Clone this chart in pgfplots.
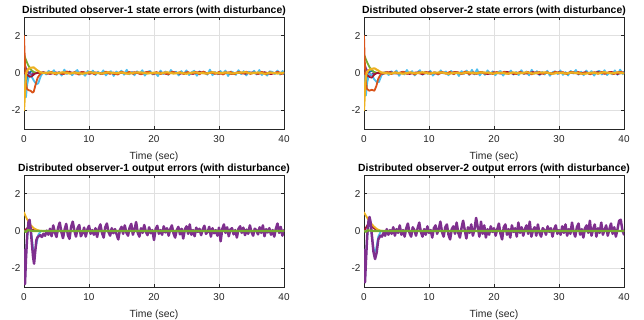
\documentclass[border=0pt]{standalone}
\usepackage{pgfplots}
\pgfplotsset{compat=1.18}
\usepackage{fontspec}
\setmainfont{Liberation Sans}
\definecolor{mblue}{rgb}{0,0.447,0.741}
\definecolor{morange}{rgb}{0.85,0.325,0.098}
\definecolor{myellow}{rgb}{0.929,0.694,0.125}
\definecolor{mpurple}{rgb}{0.494,0.184,0.556}
\definecolor{mgreen}{rgb}{0.466,0.674,0.188}
\definecolor{mcyan}{rgb}{0.301,0.745,0.933}
\definecolor{mred}{rgb}{0.635,0.078,0.184}
\definecolor{axgray}{rgb}{0.15,0.15,0.15}
\pgfplotsset{myax/.style={
  scale only axis, width=260bp, height=112bp, anchor=south west,
  xmin=0, xmax=40, ymin=-3, ymax=3,
  xtick={0,10,20,30,40}, ytick={-2,0,2},
  grid=major, grid style={line width=0.5bp, draw=black!12},
  axis line style={line width=0.6bp, draw=axgray},
  tick style={line width=0.5bp, draw=axgray},
  tick align=inside, major tick length=2.6bp,
  /pgf/number format/assume math mode=true,
  ticklabel style={font=\fontsize{10}{12}\selectfont, text=axgray},
  xticklabel style={yshift=-3bp},
  xlabel={Time (sec)},
  xlabel style={font=\fontsize{10.4bp}{12bp}\selectfont, text=axgray, yshift=-3bp},
  title style={font=\bfseries\fontsize{10.4bp}{12bp}\selectfont, text=black, yshift=-8bp},
  every axis plot/.append style={line width=1.8bp, line join=round, line cap=round},
  no markers,
}}
\begin{document}
\begin{tikzpicture}
\path[use as bounding box] (0,0) rectangle (644bp,320bp);
% ---------------- top left
\begin{axis}[myax, at={(24bp,191bp)}, title={Distributed observer-1 state errors (with disturbance)}]
\addplot[mblue] coordinates {(0,-0.4) (0.2,-1.0) (0.5,-0.3) (0.8,0.02) (1.2,0.1) (1.6,0.02) (2,0) (40,0)};
\addplot[mpurple] coordinates {(0,0.6) (0.3,0.25) (0.7,0) (1.1,-0.1) (1.5,0) (40,0)};
\addplot[mgreen] coordinates {(0,1.0) (0.3,0.7) (0.6,0.45) (1.0,0.2) (1.5,0.05) (2,0) (40,0)};
\addplot[mcyan] coordinates {(0,0) (0.15,-1.0) (0.3,-1.3) (0.5,-0.6) (0.8,-0.1) (1.1,-0.15) (1.5,-0.4) (1.9,-0.6) (2.2,-0.55) (2.6,-0.15) (3.0,0.05)
(3.4,-0.08) (3.8,0.12) (4.2,-0.03) (4.6,0.15) (5.0,-0.10) (5.4,0.06) (5.8,-0.14) (6.2,0.18) (6.6,-0.05) (7.0,0.09)
(7.4,-0.12) (7.8,0.04) (8.2,0.16) (8.6,-0.09) (9.0,0.02) (9.4,-0.15) (9.8,0.11) (10.2,-0.04) (10.6,0.13) (11.0,-0.11)
(11.4,0.07) (11.8,-0.06) (12.2,0.14) (12.6,-0.13) (13.0,0.03) (13.4,0.10) (13.8,-0.16) (14.2,0.08) (14.6,-0.02) (15.0,0.12)
(15.4,-0.09) (15.8,0.17) (16.2,-0.07) (16.6,0.05) (17.0,-0.12) (17.4,0.09) (17.8,-0.04) (18.2,0.15) (18.6,-0.14) (19.0,0.06)
(19.4,0.11) (19.8,-0.08) (20.2,0.03) (20.6,-0.17) (21.0,0.13) (21.4,-0.05) (21.8,0.08) (22.2,-0.10) (22.6,0.16) (23.0,-0.03)
(23.4,0.07) (23.8,-0.13) (24.2,0.10) (24.6,-0.06) (25.0,0.14) (25.4,-0.11) (25.8,0.04) (26.2,0.12) (26.6,-0.15) (27.0,0.09)
(27.4,-0.02) (27.8,0.06) (28.2,-0.09) (28.6,0.18) (29.0,-0.12) (29.4,0.05) (29.8,-0.07) (30.2,0.11) (30.6,-0.04) (31.0,0.13)
(31.4,-0.16) (31.8,0.08) (32.2,0.03) (32.6,-0.10) (33.0,0.15) (33.4,-0.06) (33.8,0.10) (34.2,-0.13) (34.6,0.07) (35.0,-0.03)
(35.4,0.12) (35.8,-0.08) (36.2,0.16) (36.6,-0.11) (37.0,0.04) (37.4,-0.14) (37.8,0.09) (38.2,0.06) (38.6,-0.05) (39.0,0.13)
(39.4,-0.09) (39.8,0.11) (40,-0.07)};
\addplot[mred] coordinates {(0,0) (0.5,-0.1) (0.9,-0.2) (1.2,-0.18) (1.6,-0.05) (2,0) (3,0.04) (4,-0.05) (5,0.03) (6,-0.06) (7,0.05) (8,-0.03) (9,0.06) (10,-0.04) (11,0.03) (12,-0.05) (13,0.04) (14,-0.06) (15,0.05) (16,-0.03) (17,0.04) (18,-0.05) (19,0.06) (20,-0.04) (21,0.03) (22,-0.06) (23,0.05) (24,-0.04) (25,0.03) (26,-0.05) (27,0.06) (28,-0.03) (29,0.04) (30,-0.05) (31,0.03) (32,-0.06) (33,0.05) (34,-0.04) (35,0.03) (36,-0.05) (37,0.04) (38,-0.06) (39,0.05) (40,-0.03)};
\addplot[morange] coordinates {(0,2) (0.1,1.0) (0.2,0.1) (0.3,-0.55) (0.45,-0.85) (0.7,-0.92) (1.0,-0.95) (1.3,-1.05) (1.5,-1.0) (1.8,-0.6) (2.1,-0.25) (2.5,-0.05) (3.0,0.02)
(3.6,-0.04) (4.2,0.06) (4.8,-0.07) (5.4,0.03) (6.0,-0.05) (6.6,0.08) (7.2,-0.03) (7.8,0.05) (8.4,-0.08) (9.0,0.04) (9.6,-0.02) (10.2,0.06) (10.8,-0.06) (11.4,0.02) (12.0,-0.04) (12.6,0.07) (13.2,-0.05) (13.8,0.03) (14.4,-0.09) (15.0,0.05) (15.6,-0.03) (16.2,0.06) (16.8,-0.05) (17.4,0.04) (18.0,-0.07) (18.6,0.02) (19.2,0.06) (19.8,-0.04) (20.4,0.05) (21.0,-0.06) (21.6,0.03) (22.2,-0.08) (22.8,0.07) (23.4,-0.02) (24.0,0.04) (24.6,-0.06) (25.2,0.05) (25.8,-0.03) (26.4,0.06) (27.0,-0.07) (27.6,0.08) (28.2,-0.04) (28.8,0.03) (29.4,-0.05) (30.0,0.06) (30.6,-0.08) (31.2,0.02) (31.8,0.05) (32.4,-0.06) (33.0,0.04) (33.6,-0.03) (34.2,0.07) (34.8,-0.05) (35.4,0.03) (36.0,-0.04) (36.6,0.06) (37.2,-0.07) (37.8,0.04) (38.4,-0.02) (39.0,0.05) (39.6,-0.06) (40,0.02)};
\addplot[myellow, line width=2.1bp] coordinates {(0,-2) (0.1,-1.4) (0.2,-0.6) (0.35,0) (0.6,0.2) (1.0,0.28) (1.5,0.3) (2.0,0.15) (2.5,0.04) (3.0,0) (4,0.03) (5,-0.02) (6,0.04) (7,-0.03) (8,0.02) (9,-0.04) (10,0.03) (11,0.01) (12,-0.03) (13,0.04) (14,-0.02) (15,0.03) (16,-0.04) (17,0.02) (18,0.03) (19,-0.03) (20,0.02) (21,-0.02) (22,0.04) (23,-0.03) (24,0.02) (25,-0.04) (26,0.03) (27,0.01) (28,-0.03) (29,0.04) (30,-0.02) (31,0.03) (32,-0.03) (33,0.02) (34,0.04) (35,-0.02) (36,0.03) (37,-0.04) (38,0.02) (39,-0.03) (40,0.02)};
\end{axis}
% ---------------- top right
\begin{axis}[myax, at={(364bp,191bp)}, title={Distributed observer-2 state errors (with disturbance)}]
\addplot[mblue] coordinates {(0,-0.5) (0.2,-1.1) (0.5,-0.3) (0.8,0.05) (1.2,0.12) (1.6,0.03) (2,0) (40,0)};
\addplot[mpurple] coordinates {(0,0.6) (0.3,0.25) (0.7,0) (1.1,-0.12) (1.5,0) (40,0)};
\addplot[mgreen] coordinates {(0,1.0) (0.3,0.72) (0.6,0.48) (1.0,0.22) (1.5,0.06) (2,0) (40,0)};
\addplot[mcyan] coordinates {(0,0) (0.15,-0.9) (0.3,-1.2) (0.5,-0.5) (0.8,-0.05) (1.2,-0.1) (1.6,-0.35) (2.0,-0.5) (2.3,-0.48) (2.7,-0.12) (3.0,0.0)
(3.4,0.06) (3.8,-0.11) (4.2,0.09) (4.6,-0.04) (5.0,0.13) (5.4,-0.15) (5.8,0.05) (6.2,-0.08) (6.6,0.16) (7.0,-0.06)
(7.4,0.10) (7.8,-0.13) (8.2,0.03) (8.6,0.15) (9.0,-0.10) (9.4,0.07) (9.8,-0.05) (10.2,0.12) (10.6,-0.14) (11.0,0.04)
(11.4,-0.09) (11.8,0.14) (12.2,-0.03) (12.6,0.08) (13.0,-0.12) (13.4,0.11) (13.8,-0.07) (14.2,0.05) (14.6,-0.16) (15.0,0.10)
(15.4,-0.04) (15.8,0.13) (16.2,-0.11) (16.6,0.17) (17.0,-0.08) (17.4,0.20) (17.8,-0.13) (18.2,0.06) (18.6,-0.10) (19.0,0.14)
(19.4,-0.05) (19.8,0.09) (20.2,-0.12) (20.6,0.04) (21.0,0.11) (21.4,-0.14) (21.8,0.07) (22.2,-0.03) (22.6,0.13) (23.0,-0.09)
(23.4,0.05) (23.8,-0.11) (24.2,0.15) (24.6,-0.06) (25.0,0.08) (25.4,-0.13) (25.8,0.17) (26.2,-0.04) (26.6,0.10) (27.0,-0.12)
(27.4,0.06) (27.8,-0.08) (28.2,0.12) (28.6,-0.15) (29.0,0.04) (29.4,0.09) (29.8,-0.06) (30.2,0.14) (30.6,-0.10) (31.0,0.05)
(31.4,-0.13) (31.8,0.11) (32.2,-0.03) (32.6,0.16) (33.0,-0.09) (33.4,0.07) (33.8,-0.12) (34.2,0.13) (34.6,-0.05) (35.0,0.10)
(35.4,-0.14) (35.8,0.06) (36.2,0.12) (36.6,-0.08) (37.0,0.15) (37.4,-0.11) (37.8,0.04) (38.2,-0.07) (38.6,0.14) (39.0,-0.10)
(39.4,0.18) (39.8,-0.06) (40,0.08)};
\addplot[mred] coordinates {(0,0) (0.5,-0.12) (0.9,-0.22) (1.2,-0.25) (1.6,-0.08) (2,0) (3,-0.04) (4,0.05) (5,-0.03) (6,0.06) (7,-0.05) (8,0.03) (9,-0.06) (10,0.04) (11,-0.03) (12,0.05) (13,-0.04) (14,0.06) (15,-0.05) (16,0.03) (17,-0.04) (18,0.05) (19,-0.06) (20,0.04) (21,-0.03) (22,0.06) (23,-0.05) (24,0.04) (25,-0.03) (26,0.05) (27,-0.06) (28,0.03) (29,-0.04) (30,0.05) (31,-0.03) (32,0.06) (33,-0.05) (34,0.04) (35,-0.03) (36,0.05) (37,-0.04) (38,0.06) (39,-0.05) (40,0.03)};
\addplot[morange] coordinates {(0,2) (0.1,0.8) (0.25,-0.4) (0.45,-0.85) (0.8,-0.95) (1.2,-0.9) (1.6,-0.95) (1.9,-0.7) (2.2,-0.3) (2.6,-0.05) (3.0,0.02)
(3.6,0.05) (4.2,-0.06) (4.8,0.04) (5.4,-0.03) (6.0,0.07) (6.6,-0.05) (7.2,0.03) (7.8,-0.08) (8.4,0.05) (9.0,-0.02) (9.6,0.06) (10.2,-0.05) (10.8,0.04) (11.4,-0.07) (12.0,0.03) (12.6,-0.04) (13.2,0.06) (13.8,-0.06) (14.4,0.05) (15.0,-0.03) (15.6,0.08) (16.2,-0.07) (16.8,0.04) (17.4,-0.05) (18.0,0.06) (18.6,-0.04) (19.2,0.03) (19.8,-0.06) (20.4,0.05) (21.0,-0.02) (21.6,0.07) (22.2,-0.05) (22.8,0.03) (23.4,-0.06) (24.0,0.05) (24.6,-0.04) (25.2,0.06) (25.8,-0.07) (26.4,0.03) (27.0,0.05) (27.6,-0.05) (28.2,0.04) (28.8,-0.06) (29.4,0.07) (30.0,-0.03) (30.6,0.05) (31.2,-0.06) (31.8,0.04) (32.4,-0.02) (33.0,0.06) (33.6,-0.05) (34.2,0.03) (34.8,-0.07) (35.4,0.05) (36.0,-0.04) (36.6,0.06) (37.2,-0.03) (37.8,0.05) (38.4,-0.06) (39.0,0.04) (39.6,0.06) (40,-0.02)};
\addplot[myellow, line width=2.1bp] coordinates {(0,-2) (0.1,-1.3) (0.2,-0.5) (0.4,0) (0.7,0.15) (1.1,0.22) (1.6,0.25) (2.1,0.15) (2.6,0.04) (3.1,0) (4,-0.03) (5,0.02) (6,-0.04) (7,0.03) (8,-0.02) (9,0.04) (10,-0.03) (11,0.02) (12,0.03) (13,-0.04) (14,0.02) (15,-0.03) (16,0.04) (17,-0.02) (18,0.03) (19,0.02) (20,-0.03) (21,0.02) (22,-0.04) (23,0.03) (24,-0.02) (25,0.04) (26,-0.03) (27,0.02) (28,0.03) (29,-0.04) (30,0.02) (31,-0.03) (32,0.03) (33,-0.02) (34,-0.04) (35,0.02) (36,-0.03) (37,0.04) (38,-0.02) (39,0.03) (40,-0.02)};
\end{axis}
% ---------------- bottom left
\begin{axis}[myax, at={(24bp,33bp)}, title={Distributed observer-1 output errors (with disturbance)}]
\addplot[mcyan] coordinates {(0,-1.0) (0.15,-2.7) (0.35,-1.0) (0.6,0.1) (0.9,0.4) (1.2,-0.3) (1.5,-1.3) (1.8,-0.9) (2.2,-0.2) (2.6,0) (40,0)};
\addplot[mred] coordinates {(0,0) (0.5,0.15) (1,0.1) (1.5,0.05) (2,0) (40,0)};
\addplot[myellow] coordinates {(0,1.0) (0.3,0.75) (0.6,0.55) (1.0,0.32) (1.5,0.15) (2.0,0.06) (2.5,0.01) (3,0) (40,0)};
\addplot[mpurple, line width=2.5bp] coordinates {(0,-1.0) (0.05,-1.5) (0.15,-2.85) (0.3,-1.5) (0.5,-0.2) (0.7,0.5) (0.85,0.6) (1.0,0.2) (1.2,-0.6) (1.4,-1.4) (1.55,-1.75) (1.7,-1.2) (1.9,-0.5) (2.05,-0.35)
(2.25,-0.28) (2.5,-0.22) (2.75,-0.32) (3.0,-0.15) (3.25,-0.25) (3.5,0.02) (3.75,-0.2) (4.0,0.12)
(4.25,-0.28) (4.5,0.3) (4.75,-0.08) (5.0,-0.32) (5.25,0.18) (5.5,0.45) (5.75,-0.05) (6.0,-0.38)
(6.25,0.08) (6.5,0.38) (6.75,-0.22) (7.0,-0.42) (7.25,0.22) (7.5,0.5) (7.75,0.02) (8.0,-0.3)
(8.25,0.15) (8.5,0.32) (8.75,-0.28) (9.0,-0.12) (9.25,0.18) (9.5,-0.3) (9.75,0.08) (10.0,0.28)
(10.25,-0.15) (10.5,0.05) (10.75,-0.2) (11.0,0.15) (11.25,-0.32) (11.5,0.12) (11.75,0.35) (12.0,-0.1)
(12.25,-0.35) (12.5,0.2) (12.75,0.4) (13.0,-0.05) (13.25,-0.25) (13.5,0.15) (13.75,-0.12) (14.0,0.1)
(14.25,-0.18) (14.5,-0.45) (14.75,0.05) (15.0,0.22) (15.25,-0.15) (15.5,0.3) (15.75,-0.08) (16.0,-0.25)
(16.25,0.18) (16.5,0.38) (16.75,-0.2) (17.0,0.08) (17.25,0.48) (17.5,-0.1) (17.75,-0.3) (18.0,0.15)
(18.25,-0.1) (18.5,0.32) (18.75,-0.05) (19.0,-0.22) (19.25,0.2) (19.5,-0.12) (19.75,0.05) (20.0,-0.48)
(20.25,0.1) (20.5,0.28) (20.75,-0.15) (21.0,0.05) (21.25,-0.2) (21.5,0.25) (21.75,-0.08) (22.0,0.15)
(22.25,-0.25) (22.5,0.1) (22.75,0.3) (23.0,-0.12) (23.25,-0.35) (23.5,0.05) (23.75,0.22) (24.0,-0.18)
(24.25,0.12) (24.5,-0.4) (24.75,0.08) (25.0,0.25) (25.25,-0.15) (25.5,0.35) (25.75,-0.2) (26.0,0.05)
(26.25,-0.28) (26.5,0.18) (26.75,-0.05) (27.0,0.12) (27.25,-0.22) (27.5,0.08) (27.75,0.28) (28.0,-0.15)
(28.25,-0.05) (28.5,0.22) (28.75,-0.3) (29.0,0.15) (29.25,-0.12) (29.5,0.05) (29.75,-0.25) (30.0,0.18)
(30.25,-0.55) (30.5,0.1) (30.75,0.35) (31.0,-0.1) (31.25,0.2) (31.5,-0.28) (31.75,0.08) (32.0,0.15)
(32.25,-0.18) (32.5,0.05) (32.75,-0.35) (33.0,0.12) (33.25,0.25) (33.5,-0.1) (33.75,0.18) (34.0,-0.22)
(34.25,0.08) (34.5,-0.15) (34.75,0.3) (35.0,-0.05) (35.25,-0.25) (35.5,0.12) (35.75,0.05) (36.0,-0.18)
(36.25,0.2) (36.5,-0.1) (36.75,0.3) (37.0,-0.28) (37.25,0.1) (37.5,-0.08) (37.75,0.15) (38.0,-0.2)
(38.25,0.05) (38.5,-0.3) (38.75,0.12) (39.0,0.4) (39.25,-0.1) (39.5,0.22) (39.75,-0.25) (40.0,0.05)};
\addplot[mgreen, line width=2.2bp] coordinates {(0,0) (0.3,-0.05) (0.6,0.05) (1.0,0.02) (1.5,0) (40,0)};
\end{axis}
% ---------------- bottom right
\begin{axis}[myax, at={(364bp,33bp)}, title={Distributed observer-2 output errors (with disturbance)}]
\addplot[mcyan] coordinates {(0,-1.0) (0.15,-2.65) (0.35,-1.1) (0.6,0.2) (0.9,0.5) (1.2,-0.2) (1.5,-1.0) (1.8,-1.1) (2.2,-0.3) (2.6,0) (40,0)};
\addplot[mred] coordinates {(0,0) (0.6,0.35) (1.0,0.3) (1.5,0.15) (2,0.05) (2.5,0) (40,0)};
\addplot[myellow] coordinates {(0,1.0) (0.5,0.7) (1.0,0.45) (1.5,0.25) (2.0,0.1) (2.5,0.02) (3,0) (40,0)};
\addplot[mpurple, line width=2.5bp] coordinates {(0,-1.0) (0.05,-1.6) (0.15,-2.75) (0.3,-1.6) (0.5,-0.2) (0.7,0.55) (0.85,0.75) (1.0,0.5) (1.2,-0.2) (1.45,-1.1) (1.7,-1.5) (1.95,-1.15) (2.2,-0.45) (2.5,-0.25)
(2.75,-0.3) (3.0,-0.1) (3.25,-0.25) (3.5,0.1) (3.75,-0.2) (4.0,0.05) (4.25,-0.15) (4.5,0.2)
(4.75,-0.25) (5.0,0.1) (5.25,-0.1) (5.5,0.3) (5.75,-0.2) (6.0,0.05) (6.25,-0.3) (6.5,0.15)
(6.75,0.4) (7.0,-0.1) (7.25,-0.3) (7.5,0.2) (7.75,0.05) (8.0,-0.25) (8.25,0.15) (8.5,0.45)
(8.75,-0.05) (9.0,-0.3) (9.25,0.1) (9.5,-0.2) (9.75,0.25) (10.0,-0.1) (10.25,0.05) (10.5,-0.35)
(10.75,0.15) (11.0,0.3) (11.25,-0.15) (11.5,0.1) (11.75,0.5) (12.0,-0.05) (12.25,-0.3) (12.5,0.2)
(12.75,0.35) (13.0,-0.2) (13.25,-0.45) (13.5,0.1) (13.75,0.25) (14.0,-0.15) (14.25,0.45) (14.5,-0.1)
(14.75,-0.35) (15.0,0.15) (15.25,0.55) (15.5,0.05) (15.75,-0.4) (16.0,0.2) (16.25,-0.1) (16.5,0.35)
(16.75,-0.25) (17.0,0.1) (17.25,0.7) (17.5,0.2) (17.75,-0.3) (18.0,0.5) (18.25,-0.15) (18.5,0.3)
(18.75,-0.35) (19.0,0.1) (19.25,-0.2) (19.5,0.25) (19.75,-0.05) (20.0,0.15) (20.25,-0.25) (20.5,0.1)
(20.75,0.4) (21.0,-0.15) (21.25,-0.45) (21.5,0.2) (21.75,0.35) (22.0,-0.2) (22.25,0.1) (22.5,-0.35)
(22.75,0.3) (23.0,-0.05) (23.25,0.15) (23.5,-0.3) (23.75,0.45) (24.0,-0.1) (24.25,0.2) (24.5,-0.25)
(24.75,0.1) (25.0,0.3) (25.25,-0.15) (25.5,0.5) (25.75,-0.3) (26.0,0.05) (26.25,0.2) (26.5,-0.25)
(26.75,0.35) (27.0,-0.1) (27.25,-0.3) (27.5,0.15) (27.75,0.05) (28.0,-0.2) (28.25,0.25) (28.5,-0.05)
(28.75,0.15) (29.0,-0.3) (29.25,0.1) (29.5,0.3) (29.75,-0.15) (30.0,0.05) (30.25,-0.2) (30.5,0.25)
(30.75,-0.1) (31.0,0.35) (31.25,-0.25) (31.5,0.1) (31.75,-0.15) (32.0,0.45) (32.25,-0.05) (32.5,-0.3)
(32.75,0.2) (33.0,0.4) (33.25,-0.2) (33.5,0.1) (33.75,-0.35) (34.0,0.15) (34.25,0.3) (34.5,-0.1)
(34.75,0.55) (35.0,-0.25) (35.25,0.1) (35.5,0.35) (35.75,-0.3) (36.0,0.15) (36.25,-0.1) (36.5,0.45)
(36.75,-0.2) (37.0,0.05) (37.25,0.3) (37.5,-0.25) (37.75,0.1) (38.0,0.4) (38.25,-0.15) (38.5,0.2)
(38.75,-0.3) (39.0,0.1) (39.25,0.55) (39.5,0.6) (39.75,0.05) (40.0,-0.2)};
\addplot[mgreen, line width=2.2bp] coordinates {(0,0) (0.3,-0.04) (0.6,0.04) (1.0,0.02) (1.5,0) (40,0)};
\end{axis}
\end{tikzpicture}
\end{document}
